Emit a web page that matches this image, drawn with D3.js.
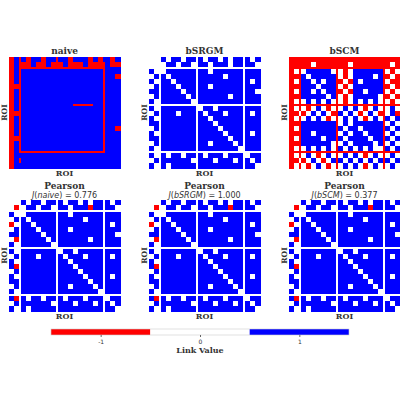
<!DOCTYPE html>
<html>
<head>
<meta charset="utf-8">
<title>link matrices</title>
<style>body{margin:0;background:#fff}</style>
</head>
<body>
<svg width="400" height="400"></svg>
<script src="https://cdn.jsdelivr.net/npm/d3@7"></script>
<script>
// B = 1, W = 0, R = -1 (coarse 24x24 reading of each matrix)
var naiveRows = [
"RBRBRBBRBBRBBRBBBRBRBBRB","RBRRRBRRBRRRBRRRBRRRRBRR","RBRRRRRRRRRRRRRRRRRRRBBB",
"RBRBBBBBBBBBBBBBBBBBRBBB","RBRBBBBBBBBBBBBBBBBBRBBR","RBRBBBBBBBBBBBBBBBBBRBBB",
"RRRBBBBBBBBBBBBBBBBBRBBB","RBRBBBBBBBBBBBBBBBBBRBBB","RBRBBBBBBBBBBBBBBBBBRBBB",
"RBRBBBBBBBBBBBBBBBBBRBBB","RBRBBBBBBBBBBBRRRRBBRBBB","RBRBBBBBBBBBBBBBBBBBRBBB",
"RRRBBBBBBBBBBBBBBBBBRBBB","RBRBBBBBBBBBBBBBBBBBRBBB","RBRBBBBBBBBBBBBBBBBBRBBB",
"RBRBBBBBBBBBBBBBBBBBRBBR","RBRBBBBBBBBBBBBBBBBBRBBB","RRRBBBBBBBBBBBBBBBBBRBBB",
"RBRBBBBBBBBBBBBBBBBBRBBB","RBRBBBBBBBBBBBBBBBBBRBBB","RBRRRRRRRRRRRRRRRRRRRBBB",
"RBBBBBBBBBBBBBBBBBBBBBBB","RBRBBBBBBBBBBBBBBBBBBBBB","RBBBBBBBBBBBBBBBBBBBBBBB"];
var bsrgmRows = [
"WWWBWBBWBBWBWBBWBWBBWBWB","WWWWBBWBBWWBBWBBBWBBWBBW","WWWWWWWWWWWWWWWWWWWWWWWW",
"BWWWBBBBBBWBBWBBBBBBWBBB","WBWBWBBBBBWBBBBBWBBBWBBB","BWWBBWBBBBWBBBBBBBBBWBWB",
"WBWBBBWBBBWBBWBBBBBBWBBB","BBWBBBBWBBWBBBBBBBBBWBBW","WBWBBBBBWBWBBBBBBWBBWBBB",
"BWWBBBBBBWWBBBBBBBBBWBBB","WWWWWWWWWWWWWWWWWWWWWWWW","BWWBBBBBBBWWBBWBBBBBWBBB",
"WBWBBBWBBBWBWBBBWBBBWBWB","BWWBBBBBBBWBBWBBBBBBWBBB","BBWBBBBBBBWBBBWBBBBBWBBB",
"WBWBBBBBBBWBBBBWBBBBWBBB","BWWBBBBBBBWBBBBBWBBBWBWB","BBWBBBBBBBWBBBBBBWBBWBBB",
"WBWBBBBBBBWBBWBBBBWBWBBB","BWWBBBBBBBWBBBBBBBBWWBBB","WWWWWWWWWWWWWWWWWWWWWWWW",
"BWWBWBBWBBWBWBBBWBBBWWBB","WBWBBBBBBWWBBBWBBBWBWBWB","BWWBWBBBBBWBBBBBBBBBWBBW"];
var bscmRows = [
"RRRRRRRRRRRRRRRRRRRRRRRR","RRRRRWRRRRRRRWRRRRRRRRWR","RRRRRRRRRRRRRRRRRRRRRRRR",
"RWRWBBBBBWRWRWBBBBBBRWRW","RRRBWBBBBBRWRWBBBBWBRRWR","RWRBBWBWBBRRWRBWBBBBRWRR",
"RRRBBBWBBBRWRWBBBBBBRRWR","RWRBBWBWBBRRWRBBWBBBRWRW","RRRBBBBBWBRWRWBBBBBWRRWR",
"RWRWBWBWBWRWRWBWBWBWRWRW","RRRRRRRRRRRRRRRRRRRRRRRR","RWRWRWBWRWRWBWBWRWBWRWBW",
"RRWRWBWBWRRBWBWRWBWRRWBR","RWRWBWBWRWRWBWBWRWBWRBWB","RRRBBBBBBBRWBWBBBBBBRWBW",
"RWRBBBBBBBRBWBBWBBBBRBWB","RRRBBWBBBBRWBWBBWBBBRWBW","RWRBBBBWBBRBWBBBBWBBRBWB",
"RRRBBBBBBWRWBWBBBBWBRWBW","RWRWBWBWBWRBWBWBWBWWRBWB","RRRRRRRRRRRRRRRRRRRRRRRR",
"RWRWBWRWBWRWBWBWRWBWRWBW","RRWRWBWRWBRBWBWBWBWBRBWB","RWRWRWBWRWRWBWBWRWBWRWBW"];
var pearsonRows = [
"WWWBWBBWBBWBWBBWBWBBWBWB","WRWWBBWBBWWBBWBBBRBBWBBW","WWWWWWWWWWWWWWWWWWWWWWWW",
"BWWWBBBBBBWBBWBBBBBBWBBB","WBWBWBBBBBWBBBBBWBBBWBBB","RWWBBWBBBBWBBBBBBBBBWBWB",
"WBWBBBWBBBWBBWBBBBBBWBBB","BBWBBBBWBBWBBBBBBBBBWBBW","WRWBBBBBWBWBBBBBBWBBWBBB",
"BWWBBBBBBWWBBBBBBBBBWBBB","WWWWWWWWWWWWWWWWWWWWWWWW","BWWBBBBBBBWWBBWBBBBBWBBB",
"WBWBBBWBBBWBWBBBWBBBWBWB","BWWBBBBBBBWBBWBBBBBBWBBB","BRWBBBBBBBWBBBWBBBBBWBBB",
"WBWBBBBBBBWBBBBWBBBBWBBB","BWWBBBBBBBWBBBBBWBBBWBWB","BBWBBBBBBBWBBBBBBWBBWBBB",
"WBWBBBBBBBWBBWBBBBWBWBBB","BWWBBBBBBBWBBBBBBBBWWBBB","WWWWWWWWWWWWWWWWWWWWWWWW",
"BRWBWBBWBBWBWBBBWBBBWWBB","WBWBBBBBBWWBBBWBBBWBWBWB","BWWBWBBBBBWBBBBBBBBBWBBW"];
var titles = ["naive", "bSRGM", "bSCM"];
var jLabels = ["naive", "bSRGM", "bSCM"];
var jValues = [0.776, 1.000, 0.377];
var cbTicks = [-1, 0, 1];
// module boundary rows/cols (drawn as thin lines)
var thinIdx = [2, 10, 20];

var code = {B: 1, W: 0, R: -1};
var color = d3.scaleOrdinal().domain([-1, 0, 1]).range(["#ff0000", "#ffffff", "#0000ff"]);
var svg = d3.select("svg");
var serif = "DejaVu Serif";
var size = 111, xs = [9, 149, 289], ys = [57, 200];
var thin = 1.5;
var unit = (size - thinIdx.length * thin) / (24 - thinIdx.length);
// piecewise scale: index -> position, thin boundary rows
var dom = [0], rng = [0];
thinIdx.forEach(function(t) {
  dom.push(t, t + 1);
  var p = rng[rng.length - 1] + (t - dom[dom.length - 3]) * unit;
  rng.push(p, p + thin);
});
dom.push(24); rng.push(rng[rng.length - 1] + (24 - dom[dom.length - 2]) * unit);
var pos = d3.scaleLinear().domain(dom).range(rng);

function panel(rows, x0, y0) {
  var g = svg.append("g").attr("transform", "translate(" + x0 + "," + y0 + ")");
  var cells = [];
  rows.forEach(function(r, i) {
    r.split("").forEach(function(c, j) { cells.push({i: i, j: j, v: code[c]}); });
  });
  g.append("g").attr("shape-rendering", "crispEdges")
    .selectAll("rect").data(cells).enter().append("rect")
    .attr("x", function(d) { return pos(d.j); })
    .attr("y", function(d) { return pos(d.i); })
    .attr("width", function(d) { return pos(d.j + 1) - pos(d.j) + 0.5; })
    .attr("height", function(d) { return pos(d.i + 1) - pos(d.i) + 0.5; })
    .attr("fill", function(d) { return color(d.v); });
  g.append("text").attr("x", size / 2).attr("y", size + 8).attr("text-anchor", "middle")
    .style("font", "bold 8px '" + serif + "'").attr("fill", "#333").text("ROI");
  g.append("text").attr("transform", "translate(-2," + size / 2 + ") rotate(-90)")
    .attr("text-anchor", "middle").style("font", "bold 7.5px '" + serif + "'").attr("fill", "#333").text("ROI");
  return g;
}

var topData = [naiveRows, bsrgmRows, bscmRows];
topData.forEach(function(rows, k) {
  var g = panel(rows, xs[k], ys[0]);
  g.append("text").attr("x", size / 2).attr("y", -3).attr("text-anchor", "middle")
    .style("font", "bold 9px '" + serif + "'").attr("fill", "#333").text(titles[k]);
});
jValues.forEach(function(v, k) {
  var g = panel(pearsonRows, xs[k], ys[1]);
  g.append("text").attr("x", size / 2).attr("y", -11).attr("text-anchor", "middle")
    .style("font", "bold 9px '" + serif + "'").attr("fill", "#333").text("Pearson");
  var t = g.append("text").attr("x", size / 2).attr("y", -2).attr("text-anchor", "middle")
    .style("font", "8px 'DejaVu Sans'").attr("fill", "#333");
  t.append("tspan").style("font-style", "italic").text("J");
  t.append("tspan").text("(");
  t.append("tspan").style("font-style", "italic").text(jLabels[k]);
  t.append("tspan").text(") = " + v.toFixed(3));
});

// colorbar
var cb = d3.scaleLinear().domain([-1.5, 1.5]).range([51, 349]);
var cg = svg.append("g");
cg.selectAll("rect").data(cbTicks).enter().append("rect")
  .attr("x", function(d) { return cb(d - 0.5); }).attr("y", 329)
  .attr("width", cb(0.5) - cb(-0.5)).attr("height", 6)
  .attr("fill", function(d) { return color(d); });
cg.append("rect").attr("x", 51).attr("y", 329).attr("width", 298).attr("height", 6)
  .attr("fill", "none").attr("stroke", "#ccc").attr("stroke-width", 0.6);
var ax = svg.append("g").attr("transform", "translate(0,335)")
  .call(d3.axisBottom(cb).tickValues(cbTicks).tickSize(2).tickFormat(function(d) { return String(d); }));
ax.select(".domain").remove();
ax.selectAll("text").style("font", "6px 'DejaVu Sans'").attr("fill", "#333");
ax.selectAll("line").attr("stroke", "#666");
svg.append("text").attr("x", 200).attr("y", 353).attr("text-anchor", "middle")
  .style("font", "bold 8px '" + serif + "'").attr("fill", "#333").text("Link Value");
</script>
</body>
</html>
